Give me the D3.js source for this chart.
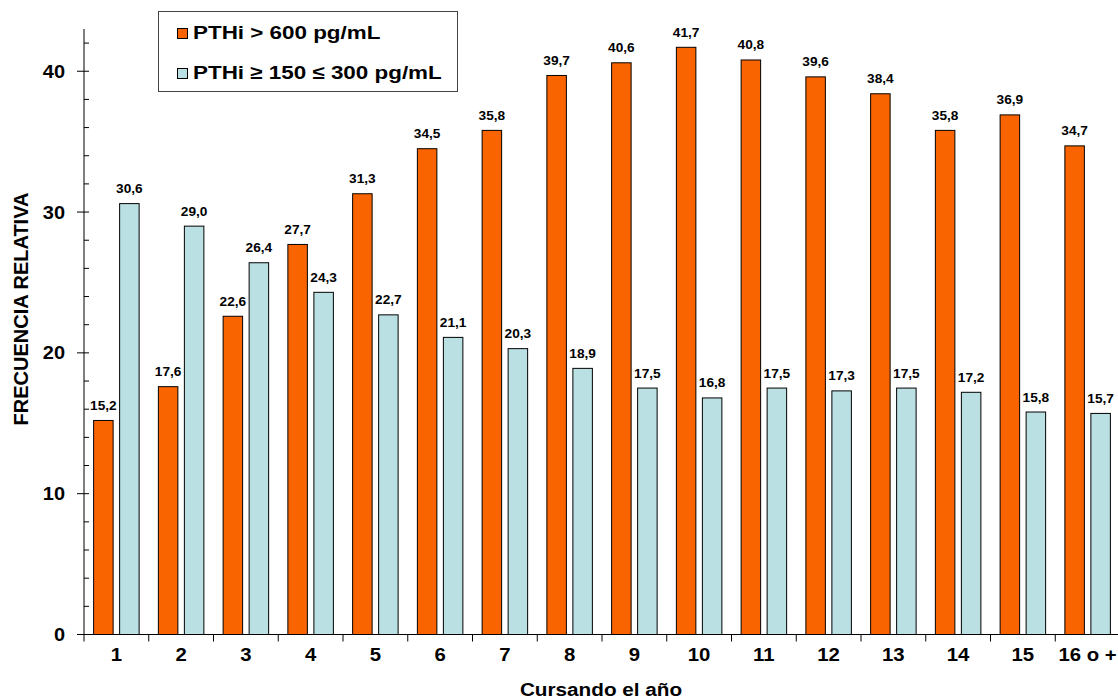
<!DOCTYPE html>
<html>
<head>
<meta charset="utf-8">
<script src="https://cdn.jsdelivr.net/npm/d3@7/dist/d3.min.js"></script>
<style>
  html, body { margin: 0; padding: 0; background: #fff; }
  svg { display: block; }
  text { font-family: Arial, "Liberation Sans", sans-serif; font-weight: bold; fill: #000; }
</style>
</head>
<body>
<svg id="chart" width="1118" height="700"></svg>
<script>
const categories = ["1","2","3","4","5","6","7","8","9","10","11","12","13","14","15","16 o +"];
const seriesNames = ["PTHi > 600 pg/mL", "PTHi \u2265 150 \u2264 300 pg/mL"];
const seriesHigh = [15.2,17.6,22.6,27.7,31.3,34.5,35.8,39.7,40.6,41.7,40.8,39.6,38.4,35.8,36.9,34.7];
const seriesTarget = [30.6,29.0,26.4,24.3,22.7,21.1,20.3,18.9,17.5,16.8,17.5,17.3,17.5,17.2,15.8,15.7];
const yMajorTicks = [0,10,20,30,40];
const yMinorTicks = [2,4,6,8,12,14,16,18,22,24,26,28,32,34,36,38,42];
const colors = ["#FA6400", "#BBE0E3"];
const xTitle = "Cursando el año";
const yTitle = "FRECUENCIA RELATIVA";

const svg = d3.select("#chart");
const x0 = d3.scaleBand().domain(categories).range([84, 1120]).padding(0);
const x1 = d3.scaleBand().domain([0,1]).range([0, x0.bandwidth()]).paddingInner(0.25).paddingOuter(0.37);
const y = d3.scaleLinear().domain([0, 43]).range([634.5, 29]);

const fmt = v => d3.format(".1f")(v).replace(".", ",");
const place = (sx) => (d, px, py) => `translate(${px},${py}) scale(${sx},1)`;

// bars
const rows = categories.map((c, i) => ({c, vals: [seriesHigh[i], seriesTarget[i]]}));
const g = svg.append("g");
const groups = g.selectAll("g.cat").data(rows).join("g")
  .attr("transform", d => `translate(${x0(d.c)},0)`);
groups.selectAll("rect").data(d => d.vals.map((v, k) => ({v, k}))).join("rect")
  .attr("x", d => x1(d.k))
  .attr("y", d => y(d.v))
  .attr("width", x1.bandwidth())
  .attr("height", d => y(0) - y(d.v))
  .attr("fill", d => colors[d.k])
  .attr("stroke", "#000")
  .attr("stroke-width", 1);
groups.selectAll("text").data(d => d.vals.map((v, k) => ({v, k}))).join("text")
  .attr("transform", d => `translate(${x1(d.k) + x1.bandwidth() / 2},${y(d.v) - 10.5}) scale(1.14,1)`)
  .attr("text-anchor", "middle")
  .attr("font-size", 12)
  .text(d => fmt(d.v));

// axes
const ax = svg.append("g").attr("stroke", "#000").attr("stroke-width", 1);
ax.append("line").attr("x1", 84).attr("x2", 84).attr("y1", y(0)).attr("y2", y(43));
ax.append("line").attr("x1", 84).attr("x2", 1118).attr("y1", y(0)).attr("y2", y(0));
ax.selectAll("line.maj").data(yMajorTicks).join("line").attr("class", "maj")
  .attr("x1", 77).attr("x2", 89).attr("y1", d => y(d)).attr("y2", d => y(d));
ax.selectAll("line.min").data(yMinorTicks).join("line").attr("class", "min")
  .attr("x1", 84).attr("x2", 89).attr("y1", d => y(d)).attr("y2", d => y(d));
ax.selectAll("line.xt").data(categories).join("line").attr("class", "xt")
  .attr("x1", d => x0(d)).attr("x2", d => x0(d)).attr("y1", y(0)).attr("y2", y(0) + 7);

svg.selectAll("text.yl").data(yMajorTicks).join("text").attr("class", "yl")
  .attr("transform", d => `translate(65,${y(d) + 6.5}) scale(1.08,1)`).attr("text-anchor", "end")
  .attr("font-size", 18.5).text(d => d);
svg.selectAll("text.xl").data(categories).join("text").attr("class", "xl")
  .attr("transform", d => `translate(${x0(d) + x0.bandwidth() / 2},661) scale(1.1,1)`).attr("text-anchor", "middle")
  .attr("font-size", 18.5).text(d => d);

svg.append("text").attr("transform", "translate(601,696) scale(1.12,1)").attr("text-anchor", "middle")
  .attr("font-size", 18.5).text(xTitle);
svg.append("text").attr("transform", "translate(28,309) rotate(-90)").attr("text-anchor", "middle")
  .attr("font-size", 20).text(yTitle);

// legend
const lg = svg.append("g");
lg.append("rect").attr("x", 158.5).attr("y", 11.5).attr("width", 299).attr("height", 80)
  .attr("fill", "#fff").attr("stroke", "#444");
seriesNames.forEach((name, k) => {
  lg.append("rect").attr("x", 177.5).attr("y", 28.5 + k * 40).attr("width", 10).attr("height", 10)
    .attr("fill", colors[k]).attr("stroke", "#000");
  lg.append("text").attr("transform", `translate(193,${38.5 + k * 40}) scale(1.18,1)`)
    .attr("font-size", 19).text(name);
});
</script>
</body>
</html>
